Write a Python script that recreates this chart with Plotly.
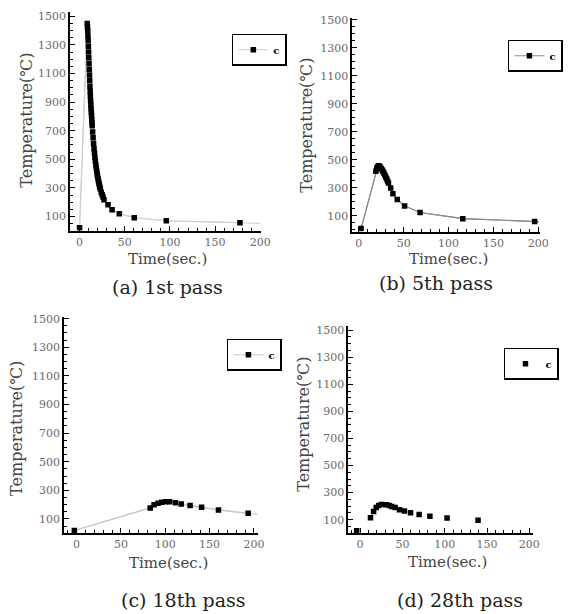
import plotly.graph_objects as go

# ---------------- data ----------------
# (a) 1st pass
t_a = [0, 8.5, 8.75, 9, 9.25, 9.5, 9.75, 10, 10.25, 10.5, 10.75, 11, 11.25, 11.5, 11.75,
       12, 12.25, 12.5, 12.75, 13, 13.25, 13.5, 13.75, 14, 14.5, 15, 15.5, 16,
       16.5, 17, 17.5, 18, 18.5, 19, 19.5, 20, 20.5, 21, 21.5, 22, 22.5, 23, 24, 25, 26,
       27, 31.5, 36, 44, 60.5, 96, 177.5]
T_a = [22, 1450, 1425, 1400, 1365, 1330, 1290, 1250, 1210, 1170, 1130, 1090, 1050, 1010,
       975, 940, 910, 880, 855, 830, 805, 780, 757, 735, 690, 650,
       610, 575, 545, 515, 488, 462, 440, 418, 398, 380, 362, 346, 332, 318, 305, 292,
       270, 252, 236, 217, 182, 148, 120, 91, 70, 57]
end_a = (200, 52)

# (b) 5th pass
t_b = [2.5, 19, 20, 21, 22, 23, 24, 25, 26, 27, 28, 29, 30, 31, 32, 33, 35.5, 38, 42.8,
       51, 68.3, 115.9, 196]
T_b = [10, 420, 440, 452, 458, 455, 447, 438, 428, 418, 405, 392, 378, 365, 350, 336,
       300, 258, 218, 172, 125, 81, 60]
end_b = (201, 60)

# (c) 18th pass
t_c = [-2.5, 83, 87.4, 91.9, 96, 100.4, 105, 111.5, 118, 128, 141, 160, 193.5]
T_c = [19, 177, 199, 210, 216, 220, 220, 213, 204, 193, 181, 163, 139]
end_c = (204, 132)

# (d) 28th pass
t_d = [-4, 12.3, 16, 19.1, 22, 25.3, 31, 34.5, 37.5, 41.5, 46.6, 52.4, 59.6, 69.8, 82.5,
       102.8, 139.4]
T_d = [19, 114, 160, 190, 205, 213, 210, 205, 198, 190, 174, 164, 152, 139, 126, 112, 96]

y_ticks = [100, 300, 500, 700, 900, 1100, 1300, 1500]
x_ticks = [0, 50, 100, 150, 200]
legend_label = "c"
captions = ["(a) 1st pass", "(b) 5th pass", "(c) 18th pass", "(d) 28th pass"]
x_title = "Time(sec.)"
y_title = "Temperature(℃)"

# ---------------- layout helpers ----------------
W, H = 568, 614


def px_x(p):
    return p / W


def px_y(p):
    return 1 - p / H


panels = [
    dict(xd=(71.5, 265.7), yd=(8.3, 228.3), xr=(-10.3, 200.8), yr=(0, 1528)),
    dict(xd=(358.7, 549.7), yd=(14, 229.3), xr=(-7.2, 202), yr=(-13, 1514)),
    dict(xd=(65.3, 263.0), yd=(315, 532.7), xr=(-14, 205), yr=(0, 1512)),
    dict(xd=(354.7, 542.3), yd=(324, 532.7), xr=(-13.7, 204), yr=(0, 1531)),
]

fig = go.Figure()

series = [
    (t_a, T_a, end_a, "#cfcfcf", "lines+markers"),
    (t_b, T_b, end_b, "#8c8c8c", "lines+markers"),
    (t_c, T_c, end_c, "#c8c8c8", "lines+markers"),
    (t_d, T_d, None, None, "markers"),
]

for i, (tx, ty, end, lc, mode) in enumerate(series):
    n = "" if i == 0 else str(i + 1)
    xa, ya = "x" + n, "y" + n
    leg = "legend" + n
    if end is not None:
        fig.add_trace(go.Scatter(
            x=tx + [end[0]], y=ty + [end[1]], mode="lines",
            line=dict(color=lc, width=1.1), xaxis=xa, yaxis=ya,
            showlegend=False, hoverinfo="skip"))
    fig.add_trace(go.Scatter(
        x=tx, y=ty, mode=mode, name="<b>" + legend_label + "</b>",
        line=dict(color=lc if lc else "#cccccc", width=1.1),
        marker=dict(symbol="square", size=5.5, color="black"),
        xaxis=xa, yaxis=ya, legend=leg, showlegend=True))

axis_common = dict(
    showline=True, linecolor="black", linewidth=2, mirror=False,
    showgrid=False, zeroline=False, ticks="inside", ticklen=5, tickwidth=1.2,
    tickcolor="black",
    tickfont=dict(family="DejaVu Serif", size=11, color="#6a6a6a"),
)

layout = dict(
    width=W, height=H, margin=dict(l=0, r=0, t=0, b=0),
    paper_bgcolor="white", plot_bgcolor="white", showlegend=True,
)

legend_pos = [(236, 30), (517, 36), (231, 337), (513, 346)]

for i, p in enumerate(panels):
    n = "" if i == 0 else str(i + 1)
    layout["xaxis" + n] = dict(
        axis_common, domain=[px_x(p["xd"][0]), px_x(p["xd"][1])],
        range=list(p["xr"]), tickvals=x_ticks, anchor="y" + n,
        minor=dict(dtick=10, tick0=0, ticks="inside", ticklen=3, tickcolor="black",
                   tickwidth=1))
    layout["yaxis" + n] = dict(
        axis_common, domain=[px_y(p["yd"][1]), px_y(p["yd"][0])],
        range=list(p["yr"]), tickvals=y_ticks, anchor="x" + n,
        minor=dict(dtick=50, tick0=0, ticks="inside", ticklen=3, tickcolor="black",
                   tickwidth=1))
    lx, ly = legend_pos[i]
    layout["legend" + n] = dict(
        x=px_x(lx), y=px_y(ly), xanchor="left", yanchor="top",
        bordercolor="black", borderwidth=1.5, bgcolor="white",
        font=dict(family="DejaVu Serif", size=10, color="black"),
        itemwidth=30, tracegroupgap=0)

fig.update_layout(**layout)

ann = []
ytitle_pos = [(27, 117), (312, 122), (17, 427), (309, 423)]
xtitle_pos = [(170, 257), (457, 257), (172, 563), (456, 562)]
cap_pos = [(170, 285), (444, 281), (187, 600), (468, 600)]
for i in range(4):
    x, y = ytitle_pos[i]
    ann.append(dict(x=px_x(x), y=px_y(y), xref="paper", yref="paper", text=y_title,
                    showarrow=False, textangle=-90, xanchor="center", yanchor="middle",
                    font=dict(family="DejaVu Serif", size=16, color="#444444")))
    x, y = xtitle_pos[i]
    ann.append(dict(x=px_x(x), y=px_y(y), xref="paper", yref="paper", text=x_title,
                    showarrow=False, xanchor="center", yanchor="middle",
                    font=dict(family="DejaVu Serif", size=15, color="#444444")))
    x, y = cap_pos[i]
    ann.append(dict(x=px_x(x), y=px_y(y), xref="paper", yref="paper", text=captions[i],
                    showarrow=False, xanchor="center", yanchor="middle",
                    font=dict(family="DejaVu Serif", size=19, color="#222222")))
fig.update_layout(annotations=ann)

fig.write_html("out.html")
